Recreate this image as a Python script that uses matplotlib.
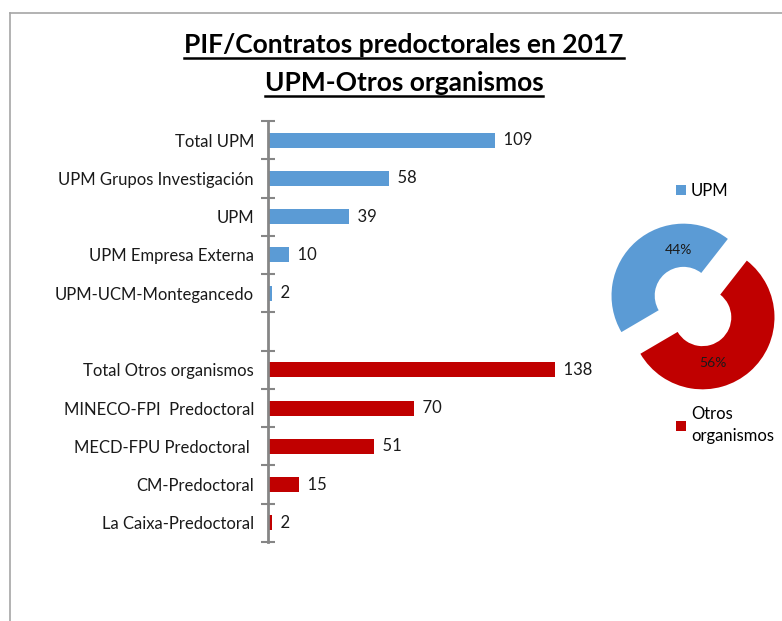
import matplotlib
matplotlib.use("Agg")
import matplotlib.pyplot as plt
from matplotlib.lines import Line2D
import numpy as np

plt.rcParams['font.family'] = ['Lato', 'DejaVu Sans']

categories = ["Total UPM", "UPM Grupos Investigación", "UPM", "UPM Empresa Externa",
              "UPM-UCM-Montegancedo", "",
              "Total Otros organismos", "MINECO-FPI  Predoctoral", "MECD-FPU Predoctoral ",
              "CM-Predoctoral", "La Caixa-Predoctoral"]
values = [109, 58, 39, 10, 2, None, 138, 70, 51, 15, 2]
blue = "#5B9BD5"
red = "#C00000"
colors = [blue] * 5 + [None] + [red] * 5

pie_labels = ["UPM", "Otros\norganismos"]
pie_values = [44, 56]

W, H = 782, 621
fig = plt.figure(figsize=(W / 100, H / 100), dpi=100)

def fx(px):
    return px / W

def fy(py):
    return 1 - py / H

# border lines
fig.add_artist(Line2D([fx(9.5), 1], [fy(12.5), fy(12.5)], color="#A6A6A6", lw=1.2))
fig.add_artist(Line2D([fx(9.5), fx(9.5)], [fy(12.5), 0], color="#A6A6A6", lw=1.2))

# bar axes
x0, x1 = 268, 600
y0, y1 = 121, 542
ax = fig.add_axes([fx(x0), fy(y1), fx(x1 - x0), (y1 - y0) / H])
ypos = np.arange(len(categories))
for i, (v, c) in enumerate(zip(values, colors)):
    if v is None:
        continue
    ax.barh(i, v, height=0.39, color=c)
    ax.text(v, i, f"  {v}", va="center", ha="left", fontsize=12, color="#1a1a1a")
ax.set_xlim(0, (x1 - x0) / 2.08)
ax.set_ylim(len(categories) - 0.5, -0.5)
ax.set_yticks(ypos)
ax.set_yticklabels(categories, fontsize=12, color="#1a1a1a")
ax.tick_params(axis="y", which="major", length=0, pad=10)
ax.set_yticks(np.arange(-0.5, len(categories), 1.0), minor=True)
ax.tick_params(axis="y", which="minor", length=10, width=1.5, direction="inout", color="#868686")
ax.set_xticks([])
for s in ["top", "right", "bottom"]:
    ax.spines[s].set_visible(False)
ax.spines["left"].set_color("#868686")
ax.spines["left"].set_linewidth(2)

# pie axes
R = 72.0
cx, cy = 693, 306.5
size = 220
pax = fig.add_axes([fx(cx - size / 2), fy(cy + size / 2), size / W, size / H])
wedges, texts, autotexts = pax.pie(pie_values, colors=[blue, red], startangle=52,
                                   counterclock=True, explode=[0.2, 0.2],
                                   autopct="%d%%", pctdistance=0.75,
                                   wedgeprops=dict(width=0.6, edgecolor="none"),
                                   textprops=dict(fontsize=10, color="#1a1a1a"))
lim = size / 2 / R
pax.set_xlim(-lim, lim)
pax.set_ylim(-lim, lim)
pax.set_aspect("equal")
autotexts[0].set_position(((678 - cx) / R, (cy - 250) / R))
autotexts[1].set_position(((713 - cx) / R, (cy - 363) / R))
for t in autotexts:
    t.set_ha("center")
    t.set_va("center")

leg1 = fig.legend([wedges[0]], [pie_labels[0]], loc="center left",
                  bbox_to_anchor=(fx(676), fy(191)), frameon=False, fontsize=12,
                  handlelength=0.6, handleheight=0.6, handletextpad=0.3, borderpad=0,
                  borderaxespad=0)
leg2 = fig.legend([wedges[1]], [pie_labels[1]], loc="upper left",
                  bbox_to_anchor=(fx(676), fy(406)), frameon=False, fontsize=12,
                  handlelength=0.6, handleheight=0.6, handletextpad=0.3, borderpad=0,
                  borderaxespad=0)
for t in leg2.get_texts():
    t.set_linespacing(1.5)
for lg in (leg1, leg2):
    for h in lg.legend_handles:
        h.set_edgecolor("none")

# title with underline
titles = ["PIF/Contratos predoctorales en 2017", "UPM-Otros organismos"]
ybase = [53, 91]
renderer = fig.canvas.get_renderer()
for t, yp in zip(titles, ybase):
    tx = fig.text(fx(404), fy(yp), t, ha="center", va="baseline", fontsize=19,
                  fontweight="bold", color="black")
    bb = tx.get_window_extent(renderer=renderer)
    yline = (H - yp) - 4.5
    fig.add_artist(Line2D([bb.x0 / fig.bbox.width, bb.x1 / fig.bbox.width],
                          [yline / fig.bbox.height, yline / fig.bbox.height],
                          color="black", lw=1.8))

fig.savefig("out.png", dpi=100)
